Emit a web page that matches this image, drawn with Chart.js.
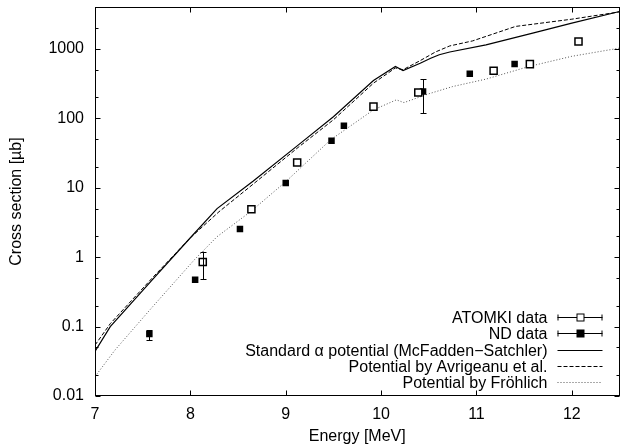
<!DOCTYPE html>
<html>
<head>
<meta charset="utf-8">
<title>Cross section vs energy</title>
<script src="https://cdn.jsdelivr.net/npm/chart.js@4.4.0/dist/chart.umd.min.js"></script>
<style>
  html, body { margin: 0; padding: 0; background: #fff; }
  canvas { display: block; }
</style>
</head>
<body>
<canvas id="chart" width="626" height="446"></canvas>
<script>
// measured points
const atomkiEnergy = [8.13, 8.64, 9.12, 9.92, 10.39, 11.18, 11.56, 12.07];
const atomkiValue = [0.85, 4.9, 23, 147, 235, 482, 602, 1274];
const atomkiErrLow = [0.48, null, null, null, null, null, null, null];
const atomkiErrHigh = [1.2, null, null, null, null, null, null, null];

const ndEnergy = [7.57, 8.05, 8.52, 9.0, 9.48, 9.61, 10.44, 10.93, 11.40];
const ndValue = [0.078, 0.474, 2.55, 11.7, 47.3, 77.7, 243, 436, 602];
const ndErrLow = [0.064, null, null, null, null, null, 118, null, null];
const ndErrHigh = [0.089, null, null, null, null, null, 366, null, null];

// model curves
const mcfEnergy = [7.0, 7.16, 7.6, 8.0, 8.28, 8.66, 9.13, 9.5, 9.92, 10.15, 10.23, 10.41, 10.52, 10.61, 10.72, 11.1, 11.6, 12.0, 12.5];
const mcfValue = [0.044, 0.1, 0.47, 1.9, 5.0, 12.5, 41, 105, 349, 556, 487, 620, 730, 820, 900, 1142, 1700, 2340, 3450];

const avEnergy = [7.0, 7.16, 7.6, 8.0, 8.3, 8.66, 9.13, 9.5, 9.92, 10.15, 10.23, 10.41, 10.57, 10.72, 10.96, 11.41, 12.0, 12.5];
const avValue = [0.054, 0.11, 0.5, 1.9, 4.5, 11.3, 38, 95, 320, 530, 500, 676, 900, 1100, 1300, 2100, 2670, 3400];

const frEnergy = [7.0, 7.21, 7.6, 8.04, 8.28, 8.63, 9.0, 9.47, 9.92, 10.16, 10.24, 10.5, 10.75, 11.1, 11.55, 12.0, 12.5];
const frValue = [0.019, 0.046, 0.19, 0.91, 1.97, 4.5, 12.2, 48.8, 132, 184, 168, 225, 286, 366, 556, 780, 1023];

const xTicks = [7, 8, 9, 10, 11, 12];
const yTicks = [0.01, 0.1, 1, 10, 100, 1000];
const yTickLabels = ['0.01', '0.1', '1', '10', '100', '1000'];

const FONT = "'Liberation Sans', Arial, Helvetica, sans-serif";
const font = { family: FONT, size: 16 };

const toXY = (xs, ys) => xs.map((x, i) => ({ x: x, y: ys[i] }));

// minor ticks on the log axis (2 and 5 of every decade)
const yMinor = [];
yTicks.forEach(d => { [2, 5].forEach(m => { if (d * m < 4000) yMinor.push(d * m); }); });

// vertical error bars
const errorBars = {
  id: 'errorBars',
  afterDatasetsDraw(chart) {
    const { ctx, scales: { x, y } } = chart;
    ctx.save();
    ctx.strokeStyle = '#000';
    ctx.lineWidth = 1;
    chart.data.datasets.forEach(ds => {
      if (!ds.errLow) return;
      ds.data.forEach((p, i) => {
        if (ds.errLow[i] == null) return;
        const px = Math.round(x.getPixelForValue(p.x)) + 0.5;
        const y1 = y.getPixelForValue(ds.errLow[i]);
        const y2 = y.getPixelForValue(ds.errHigh[i]);
        ctx.beginPath();
        ctx.moveTo(px, y1); ctx.lineTo(px, y2);
        ctx.moveTo(px - 3, Math.round(y1) + 0.5); ctx.lineTo(px + 3, Math.round(y1) + 0.5);
        ctx.moveTo(px - 3, Math.round(y2) + 0.5); ctx.lineTo(px + 3, Math.round(y2) + 0.5);
        ctx.stroke();
      });
    });
    ctx.restore();
  }
};

// frame with inward ticks on all four sides
const frame = {
  id: 'frame',
  afterDraw(chart) {
    const { ctx, chartArea: a, scales: { x, y } } = chart;
    ctx.save();
    ctx.strokeStyle = '#000';
    ctx.lineWidth = 1;
    const L = Math.round(a.left) + 0.5, R = Math.round(a.right) - 0.5;
    const T = Math.round(a.top) + 0.5, B = Math.round(a.bottom) - 0.5;
    ctx.strokeRect(L, T, R - L, B - T);
    ctx.beginPath();
    xTicks.forEach(v => {
      const px = Math.round(x.getPixelForValue(v)) + 0.5;
      ctx.moveTo(px, B); ctx.lineTo(px, B - 5);
      ctx.moveTo(px, T); ctx.lineTo(px, T + 5);
    });
    yTicks.forEach(v => {
      const py = Math.round(y.getPixelForValue(v)) + 0.5;
      ctx.moveTo(L, py); ctx.lineTo(L + 5, py);
      ctx.moveTo(R, py); ctx.lineTo(R - 5, py);
    });
    yMinor.forEach(v => {
      const py = Math.round(y.getPixelForValue(v)) + 0.5;
      ctx.moveTo(L, py); ctx.lineTo(L + 3, py);
      ctx.moveTo(R, py); ctx.lineTo(R - 3, py);
    });
    ctx.stroke();
    ctx.restore();
  }
};

// legend inside the plot, text right aligned before the sample
const keyBox = {
  id: 'keyBox',
  afterDraw(chart) {
    const { ctx, chartArea: a } = chart;
    const n = chart.data.datasets.length;
    const textX = a.right - 72;
    const s1 = a.right - 62, s2 = a.right - 17;
    ctx.save();
    ctx.font = '16px ' + FONT;
    ctx.textAlign = 'right';
    ctx.textBaseline = 'middle';
    chart.data.datasets.forEach((ds, i) => {
      const yy = Math.round(a.bottom - 14 - (n - 1 - i) * 16.25) + 0.5;
      ctx.fillStyle = '#000';
      ctx.fillText(ds.label, textX, yy + 1);
      ctx.strokeStyle = ds.borderColor;
      ctx.lineWidth = 1;
      ctx.setLineDash(ds.borderDash || []);
      ctx.beginPath();
      ctx.moveTo(s1, yy); ctx.lineTo(s2, yy);
      if (ds.errLow) {
        ctx.moveTo(s1 + 0.5, yy - 3); ctx.lineTo(s1 + 0.5, yy + 3);
        ctx.moveTo(s2 - 0.5, yy - 3); ctx.lineTo(s2 - 0.5, yy + 3);
      }
      ctx.stroke();
      ctx.setLineDash([]);
      if (ds.errLow) {
        const cx = Math.round((s1 + s2) / 2);
        ctx.fillStyle = ds.pointBackgroundColor;
        ctx.fillRect(cx - 3, yy - 3.5, 7, 7);
        ctx.strokeStyle = '#000';
        ctx.strokeRect(cx - 3, yy - 3.5, 7, 7);
      }
    });
    ctx.restore();
  }
};

new Chart(document.getElementById('chart'), {
  type: 'scatter',
  data: {
    datasets: [
      {
        label: 'ATOMKI data',
        data: toXY(atomkiEnergy, atomkiValue),
        errLow: atomkiErrLow,
        errHigh: atomkiErrHigh,
        showLine: false,
        pointStyle: 'rect',
        pointRadius: 5,
        pointBorderWidth: 1.5,
        borderColor: '#000',
        pointBorderColor: '#000',
        pointBackgroundColor: '#fff'
      },
      {
        label: 'ND data',
        data: toXY(ndEnergy, ndValue),
        errLow: ndErrLow,
        errHigh: ndErrHigh,
        showLine: false,
        pointStyle: 'rect',
        pointRadius: 4.6,
        pointBorderWidth: 0,
        borderColor: '#000',
        pointBorderColor: '#000',
        pointBackgroundColor: '#000'
      },
      {
        label: 'Standard \u03b1 potential (McFadden\u2212Satchler)',
        data: toXY(mcfEnergy, mcfValue),
        showLine: true,
        borderColor: '#000',
        borderWidth: 1.2,
        pointRadius: 0
      },
      {
        label: 'Potential by Avrigeanu et al.',
        data: toXY(avEnergy, avValue),
        showLine: true,
        borderColor: '#000',
        borderWidth: 1,
        borderDash: [4, 2],
        pointRadius: 0
      },
      {
        label: 'Potential by Fr\u00f6hlich',
        data: toXY(frEnergy, frValue),
        showLine: true,
        borderColor: '#555',
        borderWidth: 1,
        borderDash: [1, 2],
        pointRadius: 0
      }
    ]
  },
  options: {
    responsive: false,
    animation: false,
    events: [],
    layout: { padding: { top: 7, right: 1, left: 0, bottom: 0 } },
    plugins: {
      legend: { display: false },
      tooltip: { enabled: false }
    },
    scales: {
      x: {
        type: 'linear',
        min: 7,
        max: 12.5,
        grid: { display: false, drawTicks: false },
        border: { display: false },
        afterBuildTicks: s => { s.ticks = xTicks.map(v => ({ value: v })); },
        afterFit: s => { s.height = 50; s.paddingLeft = 0; s.paddingRight = 0; },
        ticks: { padding: 9, font: font, color: '#000', maxRotation: 0 },
        title: { display: true, text: 'Energy [MeV]', font: font, color: '#000', padding: 0 }
      },
      y: {
        type: 'logarithmic',
        min: 0.01,
        max: 4000,
        grid: { display: false, drawTicks: false },
        border: { display: false },
        afterBuildTicks: s => { s.ticks = yTicks.map(v => ({ value: v })); },
        afterFit: s => { s.width = 95; s.paddingTop = 0; s.paddingBottom = 0; },
        ticks: {
          padding: 11,
          font: font,
          color: '#000',
          callback: v => yTickLabels[yTicks.indexOf(v)]
        },
        title: { display: true, text: 'Cross section [\u00b5b]', font: font, color: '#000', padding: { top: 7, bottom: 0 } }
      }
    }
  },
  plugins: [errorBars, frame, keyBox]
});
</script>
</body>
</html>
